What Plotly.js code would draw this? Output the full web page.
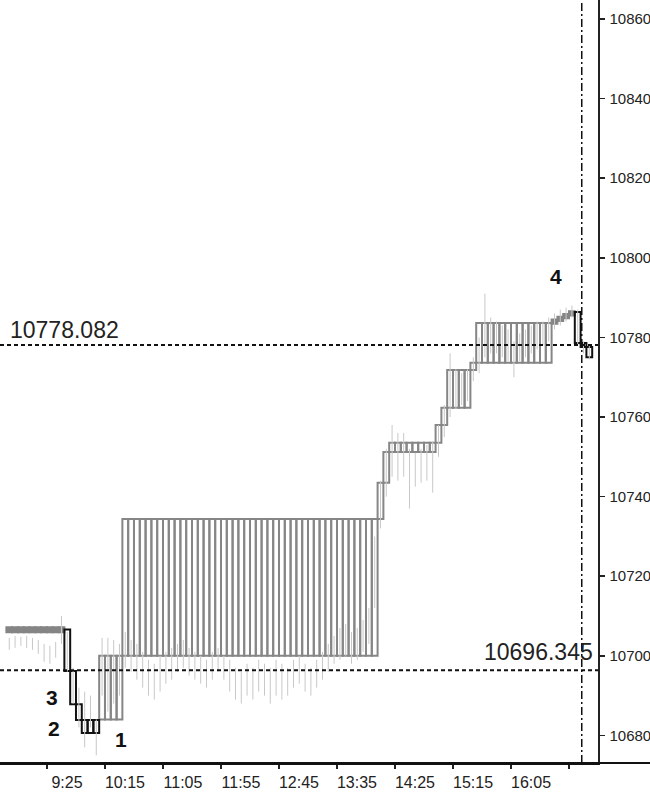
<!DOCTYPE html>
<html>
<head>
<meta charset="utf-8">
<script src="https://cdn.plot.ly/plotly-3.0.1.min.js"></script>
<style>html,body{margin:0;padding:0;background:#fff;}#chart{width:650px;height:792px;}</style>
</head>
<body>
<div id="chart"></div>
<script>
// ---- data ----
const firstBarTime = '8:50';   // time of the first 5-minute bar
const barMinutes = 5;

// box (channel) per bar: low / high / colour group (g = grey outline, f = grey thin/filled, b = black)
const boxLo = [
  10705.9,10705.9,10705.9,10705.9,10705.9,10705.9,10705.9,10705.9,10705.9,10705.9,
  10696.2,10687.8,10683.9,10680.6,10680.6,10680.6,
  10684.0,10684.0,10684.0,10684.0,
  10700,10700,10700,10700,10700,10700,10700,10700,10700,10700,10700,
  10700,10700,10700,10700,10700,10700,10700,10700,10700,10700,10700,
  10700,10700,10700,10700,10700,10700,10700,10700,10700,10700,10700,
  10700,10700,10700,10700,10700,10700,10700,10700,10700,10700,10700,
  10734.4,10743.5,
  10751.2,10751.2,10751.2,10751.2,10751.2,10751.2,10751.2,10751.2,
  10753.5,10758.0,
  10762.3,10762.3,10762.3,10762.3,
  10771.8,
  10773.6,10773.6,10773.6,10773.6,10773.6,10773.6,10773.6,10773.6,10773.6,10773.6,10773.6,10773.6,10773.6,
  10783.4,10784.1,10784.8,10785.5,
  10778.6,10777.6,10775.0
];
const boxHi = [
  10707.2,10707.2,10707.2,10707.2,10707.2,10707.2,10707.2,10707.2,10707.2,10707.2,
  10706.6,10696.2,10687.8,10683.9,10683.9,10683.9,
  10700.0,10700.0,10700.0,10700.0,
  10734.4,10734.4,10734.4,10734.4,10734.4,10734.4,10734.4,10734.4,10734.4,10734.4,10734.4,
  10734.4,10734.4,10734.4,10734.4,10734.4,10734.4,10734.4,10734.4,10734.4,10734.4,10734.4,
  10734.4,10734.4,10734.4,10734.4,10734.4,10734.4,10734.4,10734.4,10734.4,10734.4,10734.4,
  10734.4,10734.4,10734.4,10734.4,10734.4,10734.4,10734.4,10734.4,10734.4,10734.4,10734.4,
  10743.5,10751.2,
  10753.5,10753.5,10753.5,10753.5,10753.5,10753.5,10753.5,10753.5,
  10758.0,10762.3,
  10771.8,10771.8,10771.8,10771.8,
  10773.6,
  10783.6,10783.6,10783.6,10783.6,10783.6,10783.6,10783.6,10783.6,10783.6,10783.6,10783.6,10783.6,10783.6,
  10784.5,10785.2,10785.9,10786.6,
  10786.4,10778.6,10777.6
];
const boxColour = [
  'f','f','f','f','f','f','f','f','f','f',
  'b','b','b','b','b','b',
  'g','g','g','g',
  'g','g','g','g','g','g','g','g','g','g','g',
  'g','g','g','g','g','g','g','g','g','g','g',
  'g','g','g','g','g','g','g','g','g','g','g',
  'g','g','g','g','g','g','g','g','g','g','g',
  'g','g',
  'g','g','g','g','g','g','g','g',
  'g','g',
  'g','g','g','g',
  'g',
  'g','g','g','g','g','g','g','g','g','g','g','g','g',
  'f','f','f','f',
  'b','b','b'
];

// underlying price bars (light grey wicks): high / low
const wickHigh = [
  10704.5,10705,10704.8,10705,10704.5,10704,10703,10702.5,10703.5,10710,
  10706,10697,10692,10691,10690,10684,
  10704.5,10704.5,10704,10703,
  10706,10704,10703,10701,10699,10698,10700,10701,10702,10703,10704,
  10702,10701,10700,10699,10701,10702,10700,10699,10697,10696,10698,
  10697,10699,10698,10697,10699,10698,10697,10699,10700,10698,10697,
  10699,10701,10703,10705,10707,10708,10706,10707,10709,10712,10730,
  10744,10752,
  10758,10756,10756,10752,10751,10752,10753,10754,
  10758,10763,
  10776,10772,10771,10772,
  10775,
  10780,10791,10785,10784,10783,10782,10779,10781,10782,10783,10784,10784,10785,
  10786,10787,10787.5,10788,
  10787,10779,10778
];
const wickLow = [
  10701.5,10702,10702.5,10702,10701.5,10700.5,10698.5,10698,10699.5,10703,
  10696,10688,10682,10677,10682,10675,
  10690,10686,10688,10690,
  10697,10696,10694,10692,10690,10689,10691,10693,10694,10696,10697,
  10695,10694,10693,10692,10694,10696,10694,10691,10689,10688,10690,
  10689,10691,10690,10688,10690,10689,10690,10692,10693,10691,10690,
  10692,10694,10696,10698,10699,10700,10698,10699,10701,10703,10712,
  10732,10740,
  10745,10744,10745,10737,10742.5,10743.5,10744,10741,
  10750,10755,
  10760,10762,10763,10764,
  10769,
  10771,10775,10776,10776,10775,10774,10770,10774,10775,10776,10777,10778,10779,
  10782,10783,10784,10785,
  10778,10776,10774.5
];

const xTickLabels = ['9:25','10:15','11:05','11:55','12:45','13:35','14:25','15:15','16:05',''];
const xTickTimes  = ['9:25','10:15','11:05','11:55','12:45','13:35','14:25','15:15','16:05','16:55'];
const yTickValues = [10680,10700,10720,10740,10760,10780,10800,10820,10840,10860];
const yTickLabels = ['10680','10700','10720','10740','10760','10780','10800','10820','10840','10860'];

const levelUpper = 10778.082;
const levelLower = 10696.345;
const cursorTime = '17:06';

// numbered markers: label, bar time it belongs to
const markers = [
  {text:'3', time:'9:45'},
  {text:'2', time:'9:55'},
  {text:'1', time:'10:25'},
  {text:'4', time:'16:55'}
];

// ---- build ----
const toMin = s => { const p = s.split(':'); return +p[0]*60 + +p[1]; };
const t0 = toMin(firstBarTime);
const n = boxLo.length;
const barStart = boxLo.map((_, i) => t0 + i*barMinutes);
const barCenter = barStart.map(t => t + barMinutes/2);

const FONT = '"Liberation Sans",Arial,sans-serif';

// wicks as thin vertical segments
const wx = [], wy = [];
for (let i = 0; i < n; i++) { wx.push(barCenter[i], barCenter[i], null); wy.push(wickLow[i], wickHigh[i], null); }

function boxTrace(group, lineColour, fillColour) {
  const x = [], base = [], h = [];
  for (let i = 0; i < n; i++) if (boxColour[i] === group) { x.push(barCenter[i]); base.push(boxLo[i]); h.push(boxHi[i] - boxLo[i]); }
  return {type:'bar', x, base, y:h, width:barMinutes, marker:{color:fillColour, line:{color:lineColour, width:2}}, hoverinfo:'skip'};
}

const traces = [
  {type:'scatter', mode:'lines', x:wx, y:wy, line:{color:'#c8c8c8', width:1}, hoverinfo:'skip', connectgaps:false},
  boxTrace('f', '#858585', '#858585'),
  boxTrace('g', '#868686', 'rgba(0,0,0,0)'),
  boxTrace('b', '#111111', 'rgba(0,0,0,0)')
];

const xMin = 524.5, xMax = 1040;
const annotations = [
  {xref:'paper', x:0.013, xanchor:'left', yref:'y', y:levelUpper, yanchor:'bottom', yshift:0,
   text:'10778.082', showarrow:false, font:{family:FONT, size:23, color:'#222'}},
  {xref:'paper', x:0.995, xanchor:'right', yref:'y', y:levelLower, yanchor:'bottom', yshift:3,
   text:'10696.345', showarrow:false, font:{family:FONT, size:23, color:'#222'}}
];
const mShift = {'3':[-18,7,'lo'], '2':[-28,5,'lo'], '1':[-1,-20,'lo'], '4':[-16,35,'hi']};
markers.forEach(m => {
  const t = toMin(m.time); const i = (t - t0)/barMinutes;
  const s = mShift[m.text];
  const anchorX = m.text === '1' ? barStart[i] + barMinutes : (m.text === '4' ? barCenter[i] : barStart[i]);
  annotations.push({x:anchorX, y: s[2]==='lo' ? boxLo[i] : boxHi[i], xshift:s[0], yshift:s[1],
    text:'<b>'+m.text+'</b>', showarrow:false, font:{family:FONT, size:21, color:'#111'}});
});

const layout = {
  width:650, height:792,
  margin:{l:0, r:52, t:0, b:29, pad:0},
  paper_bgcolor:'#fff', plot_bgcolor:'#fff',
  showlegend:false, barmode:'overlay', bargap:0,
  xaxis:{range:[xMin, xMax], tickvals:xTickTimes.map(toMin), ticktext:xTickLabels,
    ticks:'outside', ticklen:4, tickwidth:1.5, tickcolor:'#222', ticklabelshift:20, ticklabelstandoff:0,
    showgrid:false, zeroline:false, showline:true, linecolor:'#111', linewidth:2,
    tickfont:{family:FONT, size:16, color:'#222'}, fixedrange:true},
  yaxis:{range:[10673.07, 10864.77], side:'right', tickvals:yTickValues, ticktext:yTickLabels,
    ticks:'outside', ticklen:5, tickwidth:1.5, tickcolor:'#222', ticklabelstandoff:2,
    showgrid:false, zeroline:false, showline:true, linecolor:'#222', linewidth:1.5,
    tickfont:{family:FONT, size:15, color:'#222'}, fixedrange:true},
  shapes:[
    {type:'line', xref:'paper', x0:0, x1:1, yref:'y', y0:levelUpper, y1:levelUpper, line:{color:'#111', width:2, dash:'4px,3px'}},
    {type:'line', xref:'paper', x0:0, x1:1, yref:'y', y0:levelLower, y1:levelLower, line:{color:'#111', width:2, dash:'4px,3px'}},
    {type:'line', xref:'x', x0:toMin(cursorTime), x1:toMin(cursorTime), yref:'paper', y0:0, y1:1, line:{color:'#111', width:1.5, dash:'8px,3px,2px,3px'}},
    {type:'line', xref:'paper', x0:0, x1:650/598, yref:'paper', y0:0, y1:0, line:{color:'#111', width:2}}
  ],
  annotations
};

Plotly.newPlot('chart', traces, layout, {staticPlot:true, displayModeBar:false});
</script>
</body>
</html>
